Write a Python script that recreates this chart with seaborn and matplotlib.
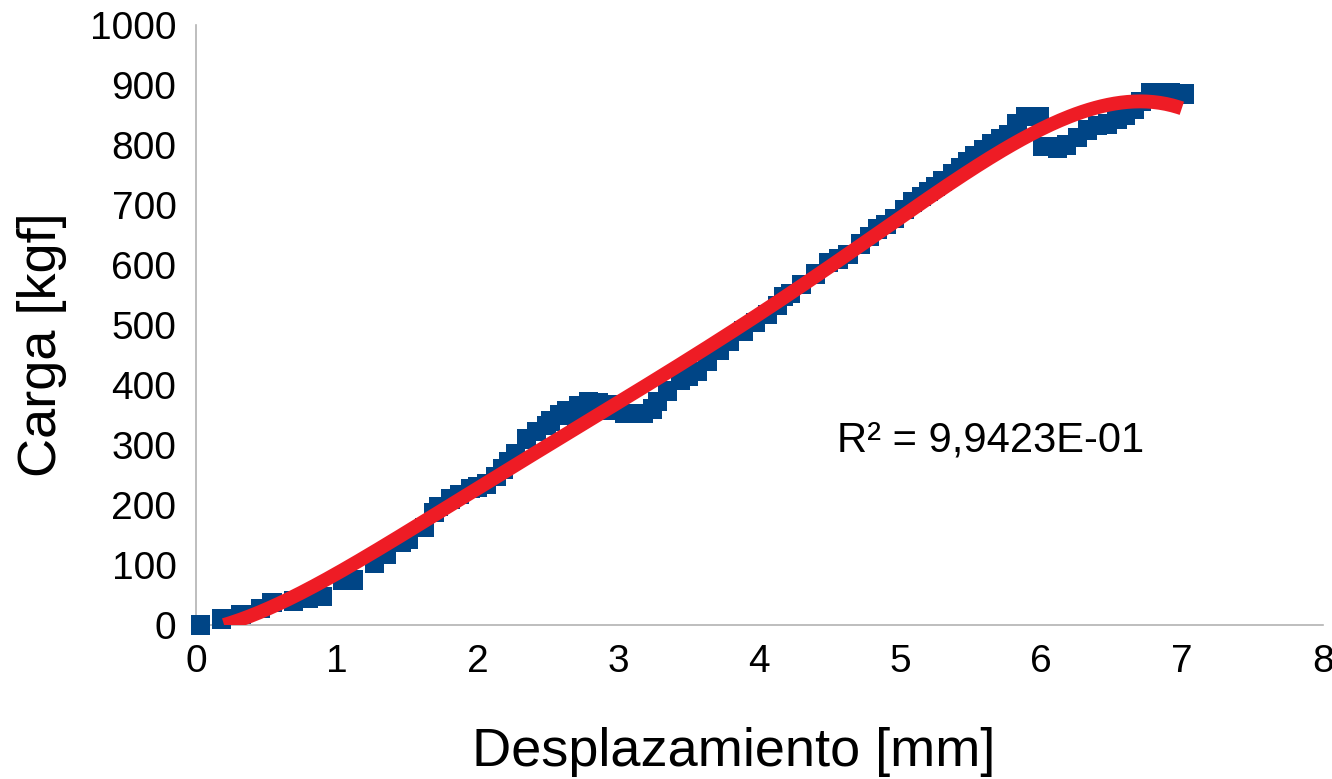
import numpy as np
import pandas as pd
import matplotlib
matplotlib.use("Agg")
import matplotlib.pyplot as plt
import seaborn as sns

# desplazamiento [mm] y carga [kgf]
desplazamiento = [0.035, 0.18, 0.32, 0.46, 0.54, 0.69, 0.80, 0.90, 1.04, 1.12,
                  1.27, 1.35, 1.46, 1.51, 1.62, 1.69, 1.72, 1.81, 1.87, 1.95,
                  2.00, 2.06, 2.13, 2.18, 2.22, 2.27, 2.35, 2.42, 2.49, 2.52,
                  2.58, 2.63, 2.70, 2.72, 2.79, 2.86, 2.93, 2.92, 3.00, 3.04,
                  3.11, 3.18, 3.24, 3.28, 3.35, 3.44, 3.50, 3.56, 3.63, 3.72,
                  3.79, 3.89, 3.97, 4.06, 4.13, 4.17, 4.22, 4.30, 4.40, 4.49,
                  4.56, 4.63, 4.72, 4.78, 4.84, 4.90, 4.96, 5.03, 5.09, 5.15,
                  5.20, 5.25, 5.30, 5.37, 5.43, 5.48, 5.53, 5.59, 5.65, 5.71,
                  5.77, 5.83, 5.89, 5.94, 5.99, 6.01, 6.06, 6.12, 6.18, 6.26,
                  6.33, 6.40, 6.47, 6.54, 6.60, 6.66, 6.71, 6.78, 6.85, 6.92,
                  6.98, 7.02]
carga = [0, 10, 18, 28, 37, 40, 45, 48, 75, 75,
         102, 118, 138, 143, 162, 187, 198, 210, 218, 227,
         230, 235, 247, 260, 273, 285, 310, 322, 332, 340,
         350, 357, 348, 365, 372, 370, 368, 357, 360, 352,
         352, 352, 360, 373, 390, 407, 415, 423, 440, 457,
         473, 490, 504, 518, 532, 547, 552, 568, 585, 604,
         610, 618, 635, 648, 660, 668, 677, 692, 705, 714,
         722, 731, 740, 752, 763, 772, 782, 792, 802, 810,
         818, 835, 848, 848, 848, 798, 798, 795, 800, 812,
         825, 832, 835, 842, 850, 860, 873, 888, 888, 888,
         885, 885]

texto_r2 = "R² = 9,9423E-01"
x_ticks = [0, 1, 2, 3, 4, 5, 6, 7, 8]
y_ticks = [0, 100, 200, 300, 400, 500, 600, 700, 800, 900, 1000]

df = pd.DataFrame({"x": desplazamiento, "y": carga})

# linea de tendencia polinomica (grado 5)
coef = np.polyfit(df["x"], df["y"], 5)
xt = np.linspace(0.2, 7.0, 300)
tend = pd.DataFrame({"x": xt, "y": np.polyval(coef, xt)})

sns.set_style("white")
plt.rcParams["font.family"] = ["Liberation Sans", "DejaVu Sans"]
plt.rcParams["text.color"] = "black"

fig = plt.figure(figsize=(13.32, 7.79), dpi=100)
ax = fig.add_axes([0.1471, 0.1977, 0.993 - 0.1471, 0.9679 - 0.1977])

sns.scatterplot(data=df, x="x", y="y", marker="s", s=190, color="#004586",
                edgecolor="none", linewidth=0, ax=ax, zorder=4, clip_on=False)
sns.lineplot(data=tend, x="x", y="y", color="#ee1c25", linewidth=10,
             ax=ax, zorder=5, solid_capstyle="butt")

ax.set_xlim(0, 8)
ax.set_ylim(0, 1000)
ax.set_xticks(x_ticks)
ax.set_yticks(y_ticks)
ax.tick_params(axis="both", labelsize=28, length=8, width=1.2,
               color="#b3b3b3", labelcolor="black", direction="out", pad=6)
for s in ["top", "right"]:
    ax.spines[s].set_visible(False)
for s in ["left", "bottom"]:
    ax.spines[s].set_color("#b3b3b3")
    ax.spines[s].set_linewidth(1.2)

ax.set_xlabel("Desplazamiento [mm]", fontsize=39, color="black", va="center")
ax.set_ylabel("Carga [kgf]", fontsize=39, color="black", va="center")
ax.xaxis.set_label_coords(0.477, -0.212)
ax.yaxis.set_label_coords(-0.1365, 0.467)
ax.text(4.55, 307, texto_r2, fontsize=30, va="center", ha="left", color="black")

fig.savefig("out.png", dpi=100)
